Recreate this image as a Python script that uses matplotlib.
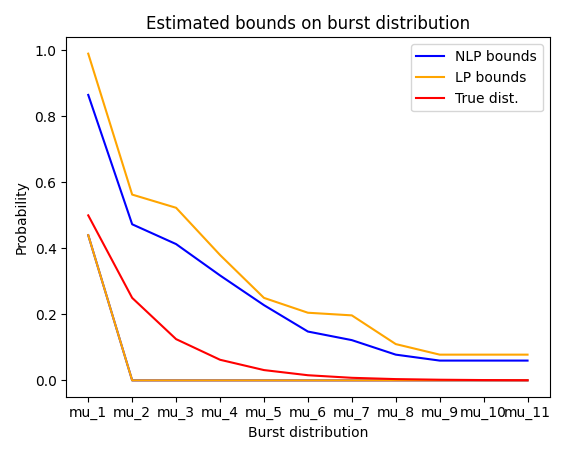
import matplotlib
matplotlib.use("Agg")
import matplotlib.pyplot as plt

labels = ["mu_%d" % i for i in range(1, 12)]
nlp_upper = [0.865, 0.473, 0.413, 0.318, 0.228, 0.148, 0.122, 0.078, 0.060, 0.060, 0.060]
nlp_lower = [0.44, 0, 0, 0, 0, 0, 0, 0, 0, 0, 0]
lp_upper = [0.99, 0.563, 0.523, 0.38, 0.25, 0.205, 0.197, 0.11, 0.078, 0.078, 0.078]
lp_lower = [0.44, 0, 0, 0, 0, 0, 0, 0, 0, 0, 0]
true_dist = [0.5, 0.25, 0.125, 0.0625, 0.03125, 0.015625, 0.0078, 0.0039, 0.002, 0.001, 0.0005]

fig, ax = plt.subplots(figsize=(5.68, 4.55), dpi=100)
ax.plot(labels, nlp_upper, color="blue", label="NLP bounds")
ax.plot(labels, nlp_lower, color="blue")
ax.plot(labels, lp_upper, color="orange", label="LP bounds")
ax.plot(labels, lp_lower, color="orange")
ax.plot(labels, true_dist, color="red", label="True dist.")
ax.set_title("Estimated bounds on burst distribution")
ax.set_xlabel("Burst distribution")
ax.set_ylabel("Probability")
ax.legend(loc="upper right")
fig.tight_layout()
fig.savefig("out.png")
